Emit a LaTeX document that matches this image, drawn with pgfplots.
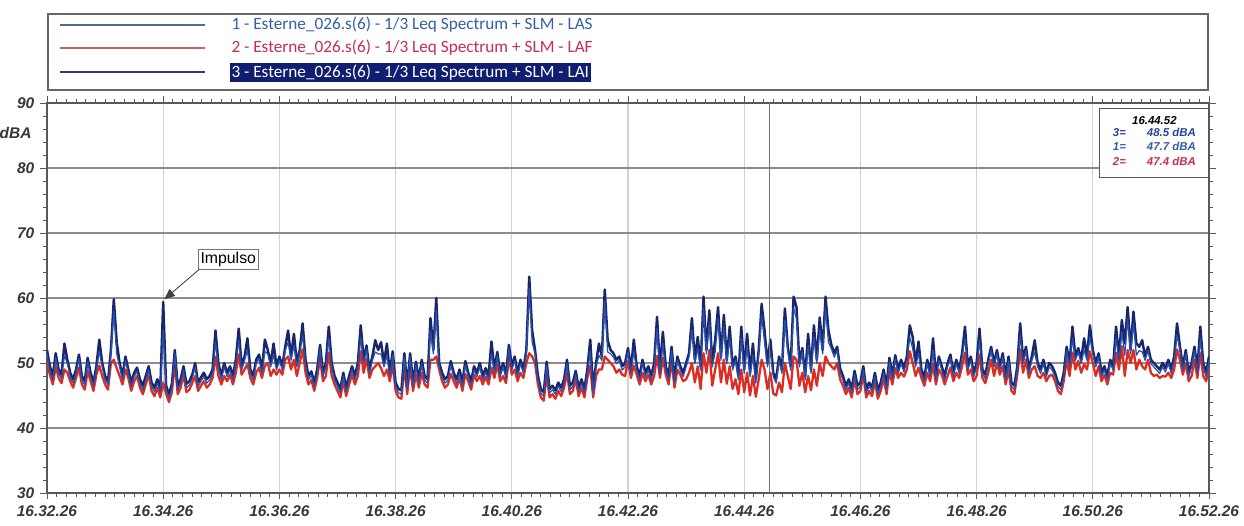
\documentclass[border=0pt]{standalone}
\usepackage{pgfplots}
\pgfplotsset{compat=1.18}
\usepackage{pgfplotstable}
\usepackage{fontspec}
\setmainfont{Liberation Sans}
\newfontfamily\legfont{Carlito}
\usetikzlibrary{arrows.meta}

\definecolor{lasblue}{RGB}{40,80,175}
\definecolor{lafred}{RGB}{220,45,35}
\definecolor{lainavy}{RGB}{25,38,105}
\definecolor{leg1}{RGB}{70,110,150}
\definecolor{leg2}{RGB}{200,95,90}
\definecolor{leg3}{RGB}{45,60,120}
\definecolor{txt1}{RGB}{50,95,165}
\definecolor{txt2}{RGB}{200,45,80}
\definecolor{txt3}{RGB}{40,70,150}
\definecolor{hl}{RGB}{15,30,110}
\definecolor{gridgray}{RGB}{140,140,140}
\definecolor{vgrid}{RGB}{210,210,210}
\definecolor{ticktext}{RGB}{55,55,55}

\newcommand{\tl}[1]{{\bfseries\itshape\fontsize{8.8}{10}\selectfont #1}}

% time in minutes after 16.32.26, levels in dBA
\pgfplotstableread{
t lai las laf
0.00 52.0 51.4 50.0
0.05 49.5 48.9 48.2
0.10 48.0 47.4 46.7
0.15 51.5 50.9 49.5
0.20 49.0 48.4 47.7
0.25 48.2 47.6 46.9
0.30 53.0 51.2 49.0
0.35 50.5 49.9 48.5
0.40 48.5 47.9 47.2
0.45 47.5 46.9 46.2
0.50 49.0 48.4 47.7
0.55 51.3 50.7 49.3
0.60 48.0 47.4 46.7
0.65 47.2 46.6 45.9
0.70 50.8 50.2 48.8
0.75 48.5 47.9 47.2
0.80 47.0 46.4 45.7
0.85 49.5 48.9 48.2
0.90 53.6 51.8 49.6
0.95 50.0 49.4 48.0
1.00 48.0 47.4 46.7
1.05 47.2 46.6 45.9
1.10 52.0 51.4 50.0
1.15 59.8 58.0 50.5
1.20 53.2 51.4 49.2
1.25 50.0 49.4 48.0
1.30 48.0 47.4 46.7
1.35 51.0 50.4 49.0
1.40 49.0 48.4 47.7
1.45 47.0 46.4 45.7
1.50 48.5 47.9 47.2
1.55 49.3 48.7 48.0
1.60 47.5 46.9 46.2
1.65 46.5 45.9 45.2
1.70 48.0 47.4 46.7
1.75 49.5 48.9 48.2
1.80 47.0 46.4 45.7
1.85 46.2 45.6 44.9
1.90 47.5 46.9 46.2
1.95 46.0 45.4 44.7
2.00 59.4 55.0 47.0
2.05 46.5 45.9 45.2
2.10 45.2 44.6 44.0
2.15 46.8 46.2 45.5
2.20 52.0 51.4 50.0
2.25 46.5 45.9 45.2
2.30 47.5 46.9 46.2
2.35 49.5 48.9 48.2
2.40 46.8 46.2 45.5
2.45 47.2 46.6 45.9
2.50 48.2 47.6 46.9
2.55 50.0 49.4 48.0
2.60 47.0 46.4 45.7
2.65 47.8 47.2 46.5
2.70 48.5 47.9 47.2
2.75 47.5 46.9 46.2
2.80 48.0 47.4 46.7
2.85 49.0 48.4 47.7
2.90 55.0 53.2 51.0
2.95 50.0 49.4 48.0
3.00 48.0 47.4 46.7
3.05 50.0 49.4 48.0
3.10 48.5 47.9 47.2
3.15 49.5 48.9 48.2
3.20 48.0 47.4 46.7
3.25 50.5 49.9 48.5
3.30 55.3 53.5 51.3
3.35 49.5 48.9 48.2
3.40 51.0 50.4 49.0
3.45 53.8 52.0 49.8
3.50 49.0 48.4 47.7
3.55 48.0 47.4 46.7
3.60 50.5 49.9 48.5
3.65 51.3 50.7 49.3
3.70 49.0 48.4 47.7
3.75 53.6 51.8 49.6
3.80 52.0 51.4 50.0
3.85 50.0 49.4 48.0
3.90 53.0 51.2 49.0
3.95 49.5 48.9 48.2
4.00 51.0 50.4 49.0
4.05 49.5 48.9 48.2
4.10 52.5 51.9 50.5
4.15 55.0 53.2 51.0
4.20 51.0 50.4 49.0
4.25 54.5 52.7 50.5
4.30 50.0 49.4 48.0
4.35 52.0 51.4 50.0
4.40 56.1 54.3 52.1
4.45 50.5 49.9 48.5
4.50 48.0 47.4 46.7
4.55 48.7 48.1 47.4
4.60 47.0 46.4 45.7
4.65 49.0 48.4 47.7
4.70 52.8 52.2 50.8
4.75 48.5 47.9 47.2
4.80 50.0 49.4 48.0
4.85 55.6 53.8 51.6
4.90 50.0 49.4 48.0
4.95 48.0 47.4 46.7
5.00 47.0 46.4 45.7
5.05 46.0 45.4 44.7
5.10 48.5 47.9 47.2
5.15 46.2 45.6 44.9
5.20 48.0 47.4 46.7
5.25 49.5 48.9 48.2
5.30 48.0 47.4 46.7
5.35 50.0 49.4 48.0
5.40 55.8 54.0 51.8
5.45 50.5 49.9 48.5
5.50 52.7 52.1 50.7
5.55 49.0 48.4 47.7
5.60 51.0 50.4 49.0
5.65 53.5 51.7 49.5
5.70 52.0 51.4 50.0
5.75 53.2 51.4 49.2
5.80 50.0 49.4 48.0
5.85 53.0 51.2 49.0
5.90 48.5 47.9 47.2
5.95 51.8 51.2 49.8
6.00 47.0 46.4 45.7
6.05 46.0 45.4 44.7
6.10 45.8 45.2 44.5
6.15 51.5 50.9 49.5
6.20 46.5 45.9 45.2
6.25 51.5 50.9 49.5
6.30 47.0 46.4 45.7
6.35 50.2 49.6 48.2
6.40 47.5 46.9 46.2
6.45 50.5 49.9 48.5
6.50 48.0 47.4 46.7
6.55 47.5 46.9 46.2
6.60 56.9 55.1 50.5
6.65 52.0 51.4 50.5
6.70 60.0 58.2 51.0
6.75 50.0 49.4 49.0
6.80 48.5 47.9 47.2
6.85 47.5 46.9 46.2
6.90 48.0 47.4 46.7
6.95 50.3 49.7 48.3
7.00 48.5 47.9 47.2
7.05 47.5 46.9 46.2
7.10 49.0 48.4 47.7
7.15 47.0 46.4 45.7
7.20 50.3 49.7 48.3
7.25 48.5 47.9 47.2
7.30 47.2 46.6 45.9
7.35 49.5 48.9 48.2
7.40 48.5 47.9 47.2
7.45 50.0 49.4 48.0
7.50 48.0 47.4 46.7
7.55 49.2 48.6 47.9
7.60 48.0 47.4 46.7
7.65 53.3 51.5 49.3
7.70 49.0 48.4 47.7
7.75 51.7 51.1 49.7
7.80 48.5 47.9 47.2
7.85 50.0 49.4 48.0
7.90 48.2 47.6 46.9
7.95 52.8 52.2 50.8
8.00 49.5 48.9 48.2
8.05 51.0 50.4 49.0
8.10 48.5 47.9 47.2
8.15 50.5 49.9 48.5
8.20 49.0 48.4 47.7
8.25 52.0 51.4 50.0
8.30 63.3 61.5 51.5
8.35 55.0 53.2 51.0
8.40 52.0 51.4 50.0
8.45 48.0 47.4 46.7
8.50 46.0 45.4 44.7
8.55 45.5 44.9 44.2
8.60 50.2 49.6 48.2
8.65 46.0 45.4 44.7
8.70 46.5 45.9 45.2
8.75 45.8 45.2 44.5
8.80 47.0 46.4 45.7
8.85 46.2 45.6 44.9
8.90 47.5 46.9 46.2
8.95 50.5 49.9 48.5
9.00 46.5 45.9 45.2
9.05 47.0 46.4 45.7
9.10 48.8 48.2 47.5
9.15 46.2 45.6 44.9
9.20 47.5 46.9 46.2
9.25 46.0 45.4 44.7
9.30 49.0 48.4 47.7
9.35 53.6 51.8 49.6
9.40 46.0 45.4 44.7
9.45 50.0 49.4 48.0
9.50 53.0 51.2 49.0
9.55 51.0 50.4 49.0
9.60 61.3 59.5 51.0
9.65 53.5 51.7 50.5
9.70 52.0 51.4 50.0
9.75 51.5 50.9 49.5
9.80 50.5 49.9 48.5
9.85 51.0 50.4 49.0
9.90 49.5 48.9 48.2
9.95 50.0 49.4 48.0
10.00 52.3 51.7 50.3
10.05 49.0 48.4 47.7
10.10 53.6 51.8 49.6
10.15 49.5 48.9 48.2
10.20 48.0 47.4 46.7
10.25 50.5 49.9 48.5
10.30 48.5 47.9 47.2
10.35 49.5 48.9 48.2
10.40 48.0 47.4 46.7
10.45 50.0 49.4 48.0
10.50 57.1 55.3 51.1
10.55 49.0 48.4 47.7
10.60 54.8 53.0 50.8
10.65 49.5 48.9 48.2
10.70 48.0 47.4 46.7
10.75 52.5 51.9 50.5
10.80 47.5 46.9 46.2
10.85 51.0 50.4 49.0
10.90 49.5 48.9 48.2
10.95 48.5 47.9 47.2
11.00 50.0 49.4 47.5
11.05 51.5 50.9 48.5
11.10 56.9 55.1 50.0
11.15 50.5 49.9 47.0
11.20 54.0 52.2 49.5
11.25 49.5 48.9 46.0
11.30 60.2 58.4 51.5
11.35 52.0 51.4 48.5
11.40 58.1 56.3 52.0
11.45 50.0 49.4 46.5
11.50 53.5 51.7 49.0
11.55 58.6 56.8 51.5
11.60 51.0 50.4 47.0
11.65 57.4 55.6 50.5
11.70 50.5 49.9 46.8
11.75 55.6 53.8 49.5
11.80 49.5 48.9 46.0
11.85 51.0 50.4 47.5
11.90 48.0 47.4 45.2
11.95 55.6 53.8 49.0
12.00 49.0 48.4 45.5
12.05 54.5 52.7 48.5
12.10 48.5 47.9 45.0
12.15 53.0 51.2 48.0
12.20 47.5 46.9 44.8
12.25 52.0 51.4 47.5
12.30 59.1 57.3 50.5
12.35 55.0 53.2 49.0
12.40 50.0 49.4 46.0
12.45 53.6 51.8 48.5
12.50 48.5 47.9 45.3
12.55 47.5 46.9 45.0
12.60 51.0 50.4 47.0
12.65 49.0 48.4 45.5
12.70 58.4 56.6 50.0
12.75 52.5 51.9 48.0
12.80 49.5 48.9 46.0
12.85 60.2 58.4 51.0
12.90 58.6 56.8 50.5
12.95 50.0 49.4 46.5
13.00 52.3 51.7 48.5
13.05 48.0 47.4 45.5
13.10 54.5 52.7 48.0
13.15 49.0 48.4 45.8
13.20 55.8 54.0 49.0
13.25 50.5 49.9 46.5
13.30 57.0 55.2 50.0
13.35 52.0 51.4 48.0
13.40 60.2 58.4 51.0
13.45 55.0 53.2 50.0
13.50 52.8 52.2 49.5
13.55 51.5 50.9 49.0
13.60 52.5 51.9 50.0
13.65 49.2 48.6 47.5
13.70 48.0 47.4 46.5
13.75 46.5 45.9 45.2
13.80 47.5 46.9 46.2
13.85 46.0 45.4 44.7
13.90 48.8 48.2 47.5
13.95 46.5 45.9 45.2
14.00 47.0 46.4 45.7
14.05 49.5 48.9 48.2
14.10 46.0 45.4 44.7
14.15 47.0 46.4 45.7
14.20 46.2 45.6 44.9
14.25 48.5 47.9 47.2
14.30 45.8 45.2 44.5
14.35 47.0 46.4 45.7
14.40 49.0 48.4 47.7
14.45 46.5 45.9 45.2
14.50 50.8 50.2 48.8
14.55 48.0 47.4 46.7
14.60 51.2 50.6 49.2
14.65 49.0 48.4 47.7
14.70 50.5 49.9 48.5
14.75 49.2 48.6 47.9
14.80 51.0 50.4 49.0
14.85 55.8 54.0 51.8
14.90 54.0 52.2 50.0
14.95 50.0 49.4 48.0
15.00 53.3 51.5 49.3
15.05 49.0 48.4 47.7
15.10 47.8 47.2 46.5
15.15 50.5 49.9 48.5
15.20 48.5 47.9 47.2
15.25 53.8 52.0 49.8
15.30 48.0 47.4 46.7
15.35 51.0 50.4 49.0
15.40 49.5 48.9 48.2
15.45 48.0 47.4 46.7
15.50 50.0 49.4 48.0
15.55 51.3 50.7 49.3
15.60 48.5 47.9 47.2
15.65 50.5 49.9 48.5
15.70 49.0 48.4 47.7
15.75 51.5 50.9 49.5
15.80 55.6 53.8 51.6
15.85 49.5 48.9 48.2
15.90 51.0 50.4 49.0
15.95 48.5 47.9 47.2
16.00 50.0 49.4 48.0
16.05 55.3 53.5 51.3
16.10 49.0 48.4 47.7
16.15 48.2 47.6 46.9
16.20 50.5 49.9 48.5
16.25 52.5 51.9 50.5
16.30 50.0 49.4 48.0
16.35 52.0 51.4 50.0
16.40 49.5 48.9 48.2
16.45 51.5 50.9 49.5
16.50 48.0 47.4 46.7
16.55 51.0 50.4 49.0
16.60 47.0 46.4 45.7
16.65 46.5 45.9 45.2
16.70 49.5 48.9 48.2
16.75 56.1 54.3 52.1
16.80 50.5 49.9 48.5
16.85 52.5 51.9 50.5
16.90 49.0 48.4 47.7
16.95 51.0 50.4 49.0
17.00 53.5 51.7 49.5
17.05 50.0 49.4 48.0
17.10 49.0 48.4 47.7
17.15 50.5 49.9 48.5
17.20 48.5 47.9 47.2
17.25 50.0 49.4 48.0
17.30 49.5 48.9 48.2
17.35 48.5 47.9 47.2
17.40 47.0 46.4 45.7
17.45 46.5 45.9 45.2
17.50 48.5 47.9 47.2
17.55 52.5 51.9 50.5
17.60 50.0 49.4 48.0
17.65 55.6 53.8 51.6
17.70 51.0 50.4 49.0
17.75 52.3 51.7 50.3
17.80 50.5 49.9 48.5
17.85 53.8 52.0 49.8
17.90 51.0 50.4 49.0
17.95 55.8 54.0 51.8
18.00 52.0 51.4 50.0
18.05 50.0 49.4 48.0
18.10 51.5 50.9 49.5
18.15 48.5 47.9 47.2
18.20 49.5 48.9 48.2
18.25 48.0 47.4 46.7
18.30 50.5 49.9 48.5
18.35 49.5 48.9 48.2
18.40 55.6 53.8 51.6
18.45 51.0 50.4 49.0
18.50 56.6 54.8 52.6
18.55 53.0 51.2 48.0
18.60 58.6 56.8 52.0
18.65 52.0 51.4 50.0
18.70 57.9 56.1 52.0
18.75 53.0 51.2 49.0
18.80 52.5 51.9 50.5
18.85 53.5 51.7 49.5
18.90 51.0 50.4 49.0
18.95 52.5 51.9 50.5
19.00 50.5 49.9 48.5
19.05 50.0 49.4 48.0
19.10 49.5 48.9 48.2
19.15 49.0 48.4 47.7
19.20 50.0 49.4 48.0
19.25 49.2 48.6 47.9
19.30 50.5 49.9 48.5
19.35 49.0 48.4 47.7
19.40 51.0 50.4 49.0
19.45 56.1 54.3 52.1
19.50 52.5 51.9 50.5
19.55 49.5 48.9 48.2
19.60 52.0 51.4 50.0
19.65 48.5 47.9 47.2
19.70 50.0 49.4 48.0
19.75 52.5 51.9 50.5
19.80 49.0 48.4 47.7
19.85 55.6 53.8 51.6
19.90 50.0 49.4 48.0
19.95 48.5 47.9 47.2
20.00 51.0 50.4 49.0
}\levels

\begin{document}
\begin{tikzpicture}
\useasboundingbox (-0.94cm,-0.66cm) rectangle (23.94cm,9.86cm);
\begin{axis}[
    at={(0,0)}, anchor=south west,
    scale only axis, width=23.24cm, height=7.8cm,
    xmin=0, xmax=20, ymin=30, ymax=90,
    xtick={0,2,...,20},
    xticklabels={\tl{16.32.26},\tl{16.34.26},\tl{16.36.26},\tl{16.38.26},\tl{16.40.26},\tl{16.42.26},\tl{16.44.26},\tl{16.46.26},\tl{16.48.26},\tl{16.50.26},\tl{16.52.26}},
    minor x tick num=11,
    ytick={30,40,...,90},
    yticklabels={\tl{30},\tl{40},\tl{50},\tl{60},\tl{70},\tl{80},\tl{90}},
    minor y tick num=4,
    tick align=outside,
    major tick length=0.13cm, minor tick length=0.08cm,
    xmajorgrids, ymajorgrids,
    x grid style={vgrid, line width=0.6pt},
    y grid style={gridgray, line width=0.6pt},
    axis line style={black!65, line width=0.8pt},
    tick style={black!65, line width=0.5pt},
    tick label style={text=ticktext},
    clip mode=individual,
]
\addplot[lafred, line width=1.3pt, line join=round] table[x=t, y=laf] {\levels};
\addplot[lainavy, line width=1.4pt, line join=round] table[x=t, y=lai] {\levels};
\addplot[lasblue, line width=0.7pt, line join=round] table[x=t, y=las] {\levels};

% cursor at 16.44.52
\draw[black!55, line width=0.7pt] (axis cs:12.433,30) -- (axis cs:12.433,90);

% y unit
\node[anchor=east, text=ticktext] at (rel axis cs:-0.008,0.923) {\tl{dBA}};

% impulse note
\node[draw=black!55, fill=white, inner sep=1.5pt, font=\fontsize{9}{10}\selectfont] (imp)
  at (axis cs:3.12,66.0) {Impulso};
\draw[black!75, line width=0.5pt, -{Triangle[length=6pt,width=5pt]}]
  (axis cs:2.62,64.4) -- (axis cs:2.02,59.8);

% cursor readout
\draw[black!65, fill=white, line width=0.6pt] (rel axis cs:0.906,0.81) rectangle (rel axis cs:0.9995,0.987);
\node[font=\bfseries\itshape\fontsize{6.5}{7}\selectfont] at (rel axis cs:0.953,0.955) {16.44.52};
\node[anchor=west, font=\bfseries\itshape\fontsize{6.5}{7}\selectfont, text=txt3] at (rel axis cs:0.912,0.925) {3=};
\node[anchor=west, font=\bfseries\itshape\fontsize{6.5}{7}\selectfont, text=txt1] at (rel axis cs:0.912,0.888) {1=};
\node[anchor=west, font=\bfseries\itshape\fontsize{6.5}{7}\selectfont, text=txt2] at (rel axis cs:0.912,0.851) {2=};
\node[anchor=east, font=\bfseries\itshape\fontsize{6.5}{7}\selectfont, text=txt3] at (rel axis cs:0.994,0.925) {48.5 dBA};
\node[anchor=east, font=\bfseries\itshape\fontsize{6.5}{7}\selectfont, text=txt1] at (rel axis cs:0.994,0.888) {47.7 dBA};
\node[anchor=east, font=\bfseries\itshape\fontsize{6.5}{7}\selectfont, text=txt2] at (rel axis cs:0.994,0.851) {47.4 dBA};

% legend
\draw[black!60, line width=0.8pt] (rel axis cs:0.001,1.033) rectangle (rel axis cs:0.999,1.228);
\draw[leg1, line width=1.1pt] (rel axis cs:0.011,1.200) -- (rel axis cs:0.136,1.200);
\draw[leg2, line width=1.1pt] (rel axis cs:0.011,1.141) -- (rel axis cs:0.136,1.141);
\draw[leg3, line width=1.1pt] (rel axis cs:0.011,1.079) -- (rel axis cs:0.136,1.079);
\node[anchor=west, inner sep=1pt, font=\legfont\fontsize{9.8}{11}\selectfont, text=txt1]
  at (rel axis cs:0.157,1.200) {1 - Esterne\_026.s(6) - 1/3 Leq Spectrum + SLM - LAS};
\node[anchor=west, inner sep=1pt, font=\legfont\fontsize{9.8}{11}\selectfont, text=txt2]
  at (rel axis cs:0.157,1.141) {2 - Esterne\_026.s(6) - 1/3 Leq Spectrum + SLM - LAF};
\node[anchor=west, inner sep=1pt, fill=hl, font=\legfont\fontsize{9.8}{11}\selectfont, text=white]
  at (rel axis cs:0.157,1.079) {3 - Esterne\_026.s(6) - 1/3 Leq Spectrum + SLM - LAI};
\end{axis}
\end{tikzpicture}
\end{document}
